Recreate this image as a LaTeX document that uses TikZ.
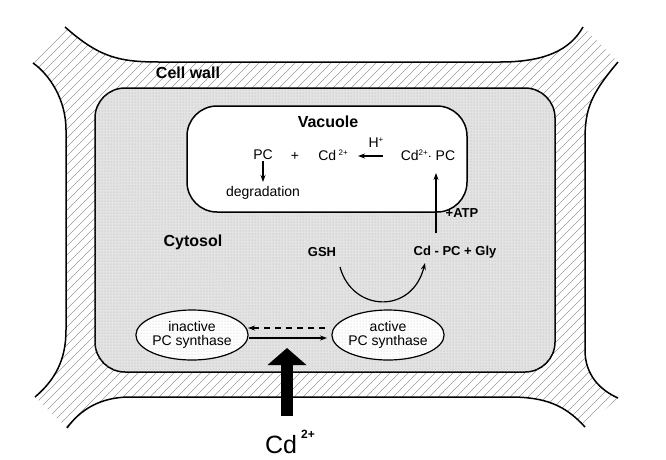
\documentclass[tikz,border=0pt]{standalone}
\usepackage{fontspec}
\setmainfont{Liberation Sans}
\usetikzlibrary{patterns,arrows.meta,shapes.geometric}
\begin{document}
\begin{tikzpicture}[x=1pt,y=-1pt,
  lbl/.style={font=\fontsize{14}{16}\selectfont, inner sep=1pt},
  bold/.style={font=\fontsize{16}{18}\selectfont\bfseries, inner sep=1pt},
  sbold/.style={font=\fontsize{13}{15}\selectfont\bfseries, inner sep=1pt},
  enz/.style={ellipse,draw,line width=1.2pt,preaction={fill=white},pattern=dots,pattern color=gray!50,minimum width=104pt,minimum height=50pt,align=center,font=\fontsize{14}{14}\selectfont,inner sep=0pt},
  arr/.style={-{Stealth[length=7pt,width=5pt]},line width=1.2pt},
  wall/.style={line width=1.5pt}]
\useasboundingbox (0,0) rectangle (666,459);
\def\topc{(65,27) .. controls (100,58) and (120,62) .. (160,62) -- (500,62) .. controls (545,62) and (570,50) .. (583,27)}
\def\rightc{(618,62) .. controls (590,95) and (585,110) .. (585,140) -- (585,350) .. controls (585,375) and (600,390) .. (618,398)}
\def\botc{(585,427) .. controls (565,405) and (545,397) .. (510,397) -- (130,397) .. controls (100,397) and (80,410) .. (67,428)}
\def\leftc{(35,397) .. controls (55,380) and (66,360) .. (66,330) -- (66,130) .. controls (66,100) and (50,75) .. (33,63)}
% hatched wall region
\begin{scope}
\clip (65,27) .. controls (100,58) and (120,62) .. (160,62) -- (500,62) .. controls (545,62) and (570,50) .. (583,27)
  -- (618,62) .. controls (590,95) and (585,110) .. (585,140) -- (585,350) .. controls (585,375) and (600,390) .. (618,398)
  -- (585,427) .. controls (565,405) and (545,397) .. (510,397) -- (130,397) .. controls (100,397) and (80,410) .. (67,428)
  -- (35,397) .. controls (55,380) and (66,360) .. (66,330) -- (66,130) .. controls (66,100) and (50,75) .. (33,63) -- cycle;
\foreach \i in {-480,-471,...,700} \draw[gray!80,line width=0.5pt] (\i,460) -- (\i+460,0);
\end{scope}
\draw[wall] \topc;
\draw[wall] \rightc;
\draw[wall] \botc;
\draw[wall] \leftc;
% cytosol
\fill[white,rounded corners=30] (95,88) rectangle (555,372);
\draw[wall,rounded corners=30,fill=gray!22] (95,88) rectangle (555,372);
\fill[pattern=dots,pattern color=gray!60,rounded corners=30] (95,88) rectangle (555,372);
\draw[wall,rounded corners=30,fill=white] (187,106) rectangle (467,212);
\node[bold] (cw) at (188,73) {Cell wall};
\node[bold] (vac) at (328,122) {Vacuole};
\node[bold] (cyt) at (193,242) {Cytosol};
\node[lbl] (pc) at (263,155) {PC};
\node[lbl] (plus) at (295,156) {+};
\node[lbl] (cd) at (333,155) {Cd\,\raisebox{0.7ex}{\fontsize{8}{9}\selectfont 2+}};
\node[lbl] (h) at (376,143) {H\raisebox{0.7ex}{\fontsize{8}{9}\selectfont +}};
\node[lbl] (cdpc) at (428,155) {Cd\raisebox{0.7ex}{\fontsize{8}{9}\selectfont 2+}$\cdot$ PC};
\node[lbl] (deg) at (263,193) {degradation};
\draw[arr] (383,156) -- (358,156);
\draw[arr] (pc.south) -- (263,182);
\node[sbold] (atp) at (462,213) {+ATP};
\node[sbold] (gsh) at (322,252) {GSH};
\node[sbold] (cdpcg) at (455,252) {Cd - PC + Gly};
\draw[arr] (436,233) -- (436,173);
\draw[arr] (340,267) .. controls (352,312) and (412,315) .. (425,263);
\node[enz] (ina) at (192,335) {inactive\\PC synthase};
\node[enz] (act) at (388,335) {active\\PC synthase};
\draw[arr,dashed,dash pattern=on 6pt off 5pt] (325,328) -- (248,328);
\draw[arr] (249,338) -- (327,338);
\coordinate (cin) at (287,348);
\node[font=\fontsize{25}{28}\selectfont] (cd2) at (290,442) {Cd\,\raisebox{1.1ex}{\fontsize{12}{13}\selectfont\bfseries 2+}};
\draw[line width=12pt,-{Triangle[width=38pt,length=17pt]}] (287,416) -- (cin);
\end{tikzpicture}
\end{document}
